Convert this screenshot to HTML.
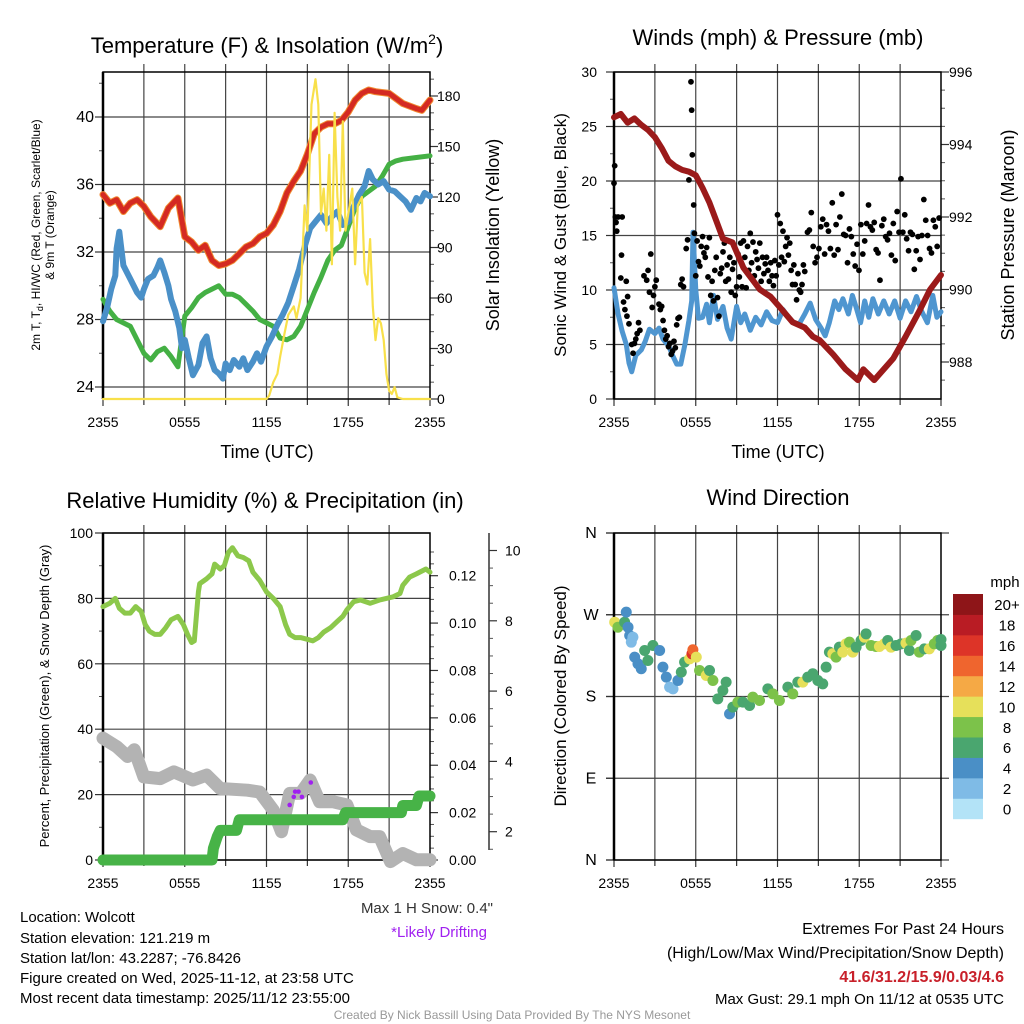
<!DOCTYPE html>
<html><head><meta charset="utf-8">
<style>
html,body{margin:0;padding:0;background:#fff;}
svg{display:block;font-family:"Liberation Sans",Arial,sans-serif;}
</style></head>
<body>
<svg id="fig" xmlns="http://www.w3.org/2000/svg" width="1024" height="1024" viewBox="0 0 1024 1024">
<rect x="0" y="0" width="1024" height="1024" fill="#fff"/>
<g id="g1"></g>
<g id="g2"></g>
<g id="g3"></g>
<g id="g4"></g>

<text x="267" y="53" font-size="22" text-anchor="middle">Temperature (F) &amp; Insolation (W/m<tspan dy="-9" font-size="14">2</tspan><tspan dy="9">)</tspan></text>
<text x="778" y="45" font-size="22" text-anchor="middle">Winds (mph) &amp; Pressure (mb)</text>
<text x="265" y="508" font-size="22" text-anchor="middle">Relative Humidity (%) &amp; Precipitation (in)</text>
<text x="778" y="505" font-size="22" text-anchor="middle">Wind Direction</text>

<text x="267" y="458" font-size="18" text-anchor="middle">Time (UTC)</text>
<text x="778" y="458" font-size="18" text-anchor="middle">Time (UTC)</text>

<text transform="translate(40,235) rotate(-90)" font-size="12" text-anchor="middle">2m T, T<tspan dy="3" font-size="9">d</tspan><tspan dy="-3">, HI/WC (Red, Green, Scarlet/Blue)</tspan></text>
<text transform="translate(54,235) rotate(-90)" font-size="12" text-anchor="middle">&amp; 9m T (Orange)</text>
<text transform="translate(499,235) rotate(-90)" font-size="18" text-anchor="middle">Solar Insolation (Yellow)</text>
<text transform="translate(566,235) rotate(-90)" font-size="17" text-anchor="middle">Sonic Wind &amp; Gust (Blue, Black)</text>
<text transform="translate(1014,235) rotate(-90)" font-size="18" text-anchor="middle">Station Pressure (Maroon)</text>
<text transform="translate(49,696) rotate(-90)" font-size="13" text-anchor="middle">Percent, Precipitation (Green), &amp; Snow Depth (Gray)</text>
<text transform="translate(566,696) rotate(-90)" font-size="17" text-anchor="middle">Direction (Colored By Speed)</text>

<text x="493" y="913" font-size="15" text-anchor="end" fill="#333">Max 1 H Snow: 0.4"</text>
<text x="487" y="937" font-size="15" text-anchor="end" fill="#a020f0">*Likely Drifting</text>

<g font-size="15">
<text x="20" y="922">Location: Wolcott</text>
<text x="20" y="943">Station elevation: 121.219 m</text>
<text x="20" y="963">Station lat/lon: 43.2287; -76.8426</text>
<text x="20" y="983">Figure created on Wed, 2025-11-12, at 23:58 UTC</text>
<text x="20" y="1003">Most recent data timestamp: 2025/11/12 23:55:00</text>
</g>
<g font-size="16" text-anchor="end">
<text x="1004" y="934">Extremes For Past 24 Hours</text>
<text x="1004" y="958">(High/Low/Max Wind/Precipitation/Snow Depth)</text>
<text x="1004" y="982" font-weight="bold" fill="#c8202a">41.6/31.2/15.9/0.03/4.6</text>
<text x="1004" y="1004" font-size="15">Max Gust: 29.1 mph On 11/12 at 0535 UTC</text>
</g>
<text x="512" y="1019" font-size="12" text-anchor="middle" fill="#999">Created By Nick Bassill Using Data Provided By The NYS Mesonet</text>
</svg>
<script>
// ---------- data (hours since 2355 UTC, values) ----------
const xTickLabels = ["2355","0555","1155","1755","2355"];
const tempRed = [[0,35.4],[0.5,34.9],[1,35.1],[1.5,34.4],[2,34.9],[2.5,35.1],[3,34.7],[3.5,34.1],[4.2,33.5],[4.8,34.6],[5.5,35.2],[6,32.9],[6.5,32.6],[7,32.1],[7.5,32.4],[8,31.5],[8.5,31.2],[9,31.3],[9.5,31.5],[10,31.9],[10.5,32.3],[11,32.5],[11.5,32.9],[12,33.1],[12.5,33.6],[13,34.4],[13.5,35.5],[14,36.2],[14.5,36.8],[15,37.8],[15.5,39.0],[16,39.4],[16.5,39.6],[17,39.6],[17.5,39.8],[18,40.3],[18.5,41.0],[19,41.4],[19.5,41.6],[20,41.5],[21,41.4],[21.5,41.1],[22,40.8],[23,40.5],[23.4,40.4],[24,41.0]];
const tempBlue = [[0,27.9],[0.3,28.7],[0.6,29.8],[0.9,30.6],[1.0,32.2],[1.2,33.2],[1.3,32.5],[1.5,31.2],[2,30.4],[2.5,29.6],[2.8,29.3],[3,29.8],[3.3,30.4],[3.7,30.6],[4,31.1],[4.2,31.5],[4.5,30.8],[4.8,30.0],[5,29.2],[5.3,28.5],[5.6,27.5],[5.8,26.3],[6,26.8],[6.3,25.7],[6.6,24.7],[7,25.3],[7.3,26.6],[7.6,27.0],[7.9,25.7],[8.2,25.0],[8.5,24.8],[8.8,24.5],[9,25.4],[9.3,25.0],[9.6,25.6],[10,25.2],[10.3,25.7],[10.6,25.0],[11,25.5],[11.3,26.0],[11.6,25.5],[12,26.4],[12.4,27.0],[12.8,27.7],[13.2,28.3],[13.6,29.0],[14,30.0],[14.4,31.0],[14.8,32.3],[15.2,33.4],[15.6,33.8],[16,34.2],[16.4,33.7],[16.8,34.1],[17.2,34.4],[17.6,33.6],[18,33.8],[18.4,34.7],[18.8,35.4],[19.2,35.9],[19.5,36.8],[19.8,36.3],[20.2,36.0],[20.6,36.2],[21,35.7],[21.4,35.6],[21.8,35.3],[22.2,35.0],[22.6,34.5],[23,35.2],[23.3,35.0],[23.6,35.5],[24,35.3]];
const dewGreen = [[0,29.2],[0.5,28.5],[1,28.0],[1.5,27.8],[2,27.6],[2.5,26.8],[3,26.0],[3.5,25.6],[4,26.1],[4.5,26.3],[5,25.8],[5.5,25.2],[6,28.2],[6.5,28.7],[7,29.3],[7.5,29.6],[8,29.8],[8.5,30.0],[9,29.5],[9.5,29.5],[10,29.3],[10.5,28.9],[11,28.5],[11.5,28.0],[12,27.8],[12.5,27.6],[13,26.9],[13.5,26.8],[14,27.0],[14.5,27.6],[15,28.6],[15.5,29.6],[16,30.5],[16.5,31.5],[17,32.1],[17.5,32.4],[18,33.5],[18.5,34.6],[19,35.3],[19.5,35.6],[20,35.9],[20.5,36.5],[21,37.2],[21.5,37.4],[22,37.5],[23,37.6],[24,37.7]];
const solar = [[0,0],[12,0],[12.2,2],[12.5,10],[12.8,15],[13,25],[13.3,38],[13.6,50],[14,55],[14.2,48],[14.5,60],[14.8,115],[15,100],[15.3,175],[15.6,190],[15.8,175],[16,110],[16.2,125],[16.4,100],[16.6,145],[16.8,80],[17,170],[17.2,120],[17.4,100],[17.6,165],[17.8,100],[18,110],[18.3,125],[18.5,80],[18.7,115],[19,120],[19.2,75],[19.4,68],[19.6,95],[19.8,55],[20,35],[20.2,48],[20.4,45],[20.6,35],[20.8,15],[21,5],[21.2,3],[21.4,7],[21.6,1],[22,0],[24,0]];
const windSpeed = [[0,10.2],[0.3,7.8],[0.6,6.2],[0.9,5.0],[1.1,3.3],[1.3,2.5],[1.6,4.0],[2,4.5],[2.3,5.3],[2.6,6.4],[3,6.0],[3.3,6.5],[3.6,5.5],[4,4.9],[4.3,4.0],[4.6,3.2],[4.9,3.2],[5.2,5.0],[5.5,7.2],[5.7,9.0],[5.8,15.3],[6.0,10.0],[6.2,7.4],[6.5,7.5],[6.8,8.7],[7,7.0],[7.3,9.5],[7.6,7.3],[8,8.5],[8.3,6.5],[8.6,5.5],[9,8.5],[9.3,7.0],[9.6,7.8],[10,6.3],[10.4,7.5],[10.8,6.8],[11.2,8.0],[11.6,7.2],[12,7.0],[12.4,8.2],[12.8,7.5],[13.2,7.0],[13.6,6.9],[14,7.8],[14.4,8.8],[14.8,7.3],[15.2,6.5],[15.5,5.8],[15.8,7.0],[16.2,9.0],[16.5,8.2],[16.8,9.2],[17.2,7.8],[17.5,9.5],[17.8,8.3],[18.1,7.0],[18.4,9.0],[18.7,7.5],[19,9.2],[19.4,7.8],[19.8,9.0],[20.2,7.8],[20.6,9.0],[21,7.4],[21.4,9.0],[21.8,8.0],[22.2,9.4],[22.6,8.0],[23,7.0],[23.4,9.5],[23.7,7.5],[24,8.0]];
const pressure = [[0,994.75],[0.5,994.84],[1,994.6],[1.5,994.72],[2,994.54],[2.5,994.4],[3,994.2],[3.5,993.9],[4,993.55],[4.5,993.4],[5,993.3],[5.5,993.25],[6,993.15],[6.5,992.8],[7,992.4],[7.5,991.9],[8,991.4],[8.7,991.3],[9.5,990.6],[10.7,990.0],[11.5,989.8],[12.2,989.5],[13.1,989.1],[14,988.95],[14.6,988.7],[15.1,988.6],[16.1,988.2],[17.0,987.8],[17.9,987.5],[18.3,987.8],[19.1,987.5],[20.5,988.1],[21.4,988.7],[22.4,989.4],[23.2,990.0],[24,990.4]];
const gusts = [[0.0,19.8],[0.05,21.4],[0.1,16.7],[0.15,16.2],[0.2,15.4],[0.3,16.7],[0.5,11.1],[0.55,13.2],[0.6,16.7],[0.7,8.9],[0.8,8.2],[0.9,10.8],[0.95,7.6],[1.0,9.4],[1.1,6.9],[1.3,5.0],[1.4,4.2],[1.5,5.1],[1.6,5.5],[1.7,6.0],[1.8,7.0],[1.9,6.3],[2.2,11.3],[2.4,10.9],[2.5,11.8],[2.6,9.8],[2.7,13.3],[2.8,8.4],[2.9,9.5],[3.0,10.3],[3.1,10.9],[3.3,8.7],[3.4,8.2],[3.5,8.5],[3.6,7.2],[3.7,6.3],[3.8,5.5],[3.9,5.8],[4.0,4.8],[4.1,5.1],[4.2,4.1],[4.3,4.4],[4.4,5.3],[4.5,4.7],[4.6,6.8],[4.7,7.4],[4.8,7.5],[4.9,10.5],[5.0,11.0],[5.1,10.3],[5.3,13.8],[5.4,14.6],[5.5,20.1],[5.6,20.8],[5.65,29.1],[5.7,26.5],[5.75,22.4],[5.85,17.8],[5.9,15.2],[6.0,11.3],[6.1,14.5],[6.2,12.6],[6.3,12.2],[6.4,14.0],[6.5,14.9],[6.6,13.4],[6.7,13.0],[6.8,13.9],[6.9,11.2],[7.0,14.8],[7.1,9.5],[7.2,10.8],[7.3,9.0],[7.4,11.8],[7.5,13.0],[7.6,9.3],[7.7,7.6],[7.8,11.5],[7.9,12.0],[8.0,13.5],[8.1,14.3],[8.2,10.8],[8.3,12.3],[8.4,11.0],[8.5,13.0],[8.6,9.8],[8.7,11.9],[8.8,12.5],[8.9,9.5],[9.0,10.3],[9.1,13.3],[9.2,11.2],[9.3,14.3],[9.4,10.3],[9.5,14.5],[9.6,13.0],[9.7,10.2],[9.8,14.0],[9.9,11.8],[10.0,15.2],[10.1,12.5],[10.2,14.4],[10.3,11.3],[10.4,13.5],[10.5,12.8],[10.6,12.0],[10.7,14.3],[10.8,10.8],[10.9,13.0],[11.0,11.5],[11.1,12.4],[11.2,13.0],[11.3,11.8],[11.4,10.8],[11.5,12.5],[11.6,11.3],[11.7,10.4],[11.8,12.7],[11.9,11.3],[12.0,16.9],[12.1,12.3],[12.2,16.1],[12.3,13.0],[12.4,15.4],[12.5,12.6],[12.6,14.0],[12.7,14.8],[12.8,13.2],[12.9,14.3],[13.0,11.8],[13.1,10.5],[13.2,12.3],[13.3,10.5],[13.4,9.1],[13.5,11.5],[13.6,10.0],[13.7,9.8],[13.8,10.5],[13.9,12.3],[14.0,11.7],
[14.2,15.3],[14.34,15.5],[14.48,17.1],[14.62,14.0],[14.76,12.5],[14.9,13.0],[15.04,13.8],[15.18,15.8],[15.32,16.5],[15.46,13.3],[15.6,16.0],[15.74,15.4],[15.88,13.8],[16.02,18.0],[16.16,13.2],[16.3,16.0],[16.44,13.7],[16.58,16.7],[16.72,18.8],[16.86,15.1],[17.0,15.0],[17.14,12.5],[17.28,15.6],[17.42,14.9],[17.56,13.3],[17.7,12.2],[17.84,14.2],[17.98,11.8],[18.12,16.0],[18.26,13.3],[18.4,14.5],[18.54,16.1],[18.68,17.8],[18.82,15.8],[18.96,15.5],[19.1,16.2],[19.24,13.7],[19.38,13.4],[19.52,10.9],[19.66,15.9],[19.8,16.5],[19.94,14.9],[20.08,14.6],[20.22,15.2],[20.36,13.2],[20.5,16.1],[20.64,12.7],[20.78,17.2],[20.92,15.3],[21.06,20.2],[21.2,15.3],[21.34,16.9],[21.48,14.7],[21.62,13.6],[21.76,15.3],[21.9,15.1],[22.04,11.9],[22.18,13.6],[22.32,14.9],[22.46,12.8],[22.6,15.0],[22.74,18.3],[22.88,16.4],[23.02,15.0],[23.16,13.8],[23.3,13.4],[23.44,16.4],[23.58,15.8],[23.72,14.0],[23.86,16.6]];
const humidity = [[0,77.5],[0.5,78.5],[0.9,80],[1.2,77],[1.6,75.5],[2,75.5],[2.4,77.5],[2.8,76],[3.1,72],[3.4,70],[3.8,69],[4.2,69],[4.6,71],[5,73.5],[5.5,74.5],[5.9,72],[6.2,69],[6.5,66.5],[6.7,67],[7.0,82],[7.1,84.5],[7.6,86],[8,87.5],[8.2,90.5],[8.6,89],[8.9,90],[9.2,94],[9.5,95.5],[9.9,93],[10.3,92.5],[10.7,91.5],[11.0,88],[11.5,85.5],[12.0,82],[12.5,80],[13.0,77.5],[13.4,72],[13.7,69],[14.1,68],[14.5,68],[15.0,67.5],[15.4,67],[15.8,68],[16.2,69.7],[16.7,71],[17.2,73],[17.6,74.5],[17.9,76.5],[18.4,79],[18.9,79.5],[19.6,78.5],[20.3,79.5],[21.3,80.5],[21.8,81.5],[22.0,84],[22.5,86.5],[23.0,87.5],[23.7,89],[24,88]];
const precip = [[0,0],[8.0,0],[8.1,0.005],[8.4,0.01],[8.6,0.0125],[9.8,0.0125],[10.0,0.017],[17.6,0.017],[17.8,0.02],[21.9,0.02],[22.0,0.023],[23.0,0.023],[23.2,0.027],[24,0.027]];
const snowDepth = [[0,4.66],[1.0,4.42],[1.8,4.14],[2.3,4.33],[3.0,3.56],[4.2,3.51],[5.2,3.70],[6.6,3.47],[7.6,3.61],[8.6,3.23],[10.6,3.18],[11.5,3.13],[12.5,2.61],[13.1,2.0],[13.7,3.09],[14.5,3.09],[15.2,3.47],[15.9,2.85],[16.9,2.85],[17.9,2.76],[18.6,2.05],[19.6,1.86],[20.3,1.86],[21.1,1.15],[22.0,1.38],[23.0,1.2],[24,1.2]];
const drifting = [[13.7,2.76],[14.0,2.99],[14.1,3.14],[14.35,3.14],[14.6,2.99],[15.25,3.40]];
const dirHours = [0.05,0.29,0.78,0.9,1.03,1.15,1.27,1.39,1.52,1.76,2.0,2.25,2.49,2.86,3.35,3.59,3.84,4.08,4.33,4.69,4.94,5.18,5.55,5.72,5.79,6.04,6.28,6.77,7.01,7.26,7.62,7.99,8.23,8.48,8.72,9.09,9.46,9.95,10.19,10.68,11.29,11.66,12.14,12.76,13.12,13.49,13.86,14.22,14.59,14.96,15.32,15.57,15.81,16.06,16.3,16.54,16.79,17.03,17.28,17.52,17.77,18.13,18.38,18.5,18.87,19.23,19.48,19.84,20.09,20.33,20.7,21.07,21.43,21.68,21.8,22.17,22.41,22.78,23.14,23.51,23.75,24.0,24.0];
const dirDeg = [261.8,256.3,261.8,272.9,256.3,247.2,239.8,245.3,223.3,216,210.5,230.6,219.6,236.2,230.6,212.3,201.3,190.3,188.4,197.6,206.8,217.8,221.5,227,231.4,223.3,208.6,203.1,208.6,197.6,177.4,186.6,195.8,160.9,168.3,173.8,173.8,170.1,179.3,175.6,188.4,182.9,175.6,190.3,182.9,195.8,195.8,201.3,205,197.6,193.9,212.3,228.8,227,223.3,234.3,228.8,238,239.8,228.8,234.3,241.7,245.3,249,236.2,235,235,238,241.7,234.3,236.2,238,238.7,230.6,241.7,247.2,228.8,232.4,232.4,238,241.7,242.8,236.2];
const dirSpeed = [10,8,6,4,4,4,2,2,4,4,4,6,6,6,4,4,4,2,2,4,6,6,10,16,14,10,8,10,6,8,6,6,6,4,6,8,6,6,8,8,6,8,8,6,8,6,10,6,6,6,6,6,6,10,8,6,10,10,8,10,6,6,10,6,8,8,10,10,6,10,6,6,10,6,8,6,8,6,10,8,8,6,6];
const speedLabels = ["0","2","4","6","8","10","12","14","16","18","20+"];
const speedColors = ["#b3e3f7","#7fbbe6","#4a8fc6","#4aa66f","#7cc24a","#e6e05a","#f5a945","#ef652e","#dd3428","#b91c24","#8e1518"];

// ---------- helpers ----------
const NS="http://www.w3.org/2000/svg";
function mk(parent,tag,attrs){const e=document.createElementNS(NS,tag);for(const k in attrs)e.setAttribute(k,attrs[k]);parent.appendChild(e);return e;}
function lin(d0,d1,r0,r1){return v=>r0+(v-d0)*(r1-r0)/(d1-d0);}
function pathOf(data,sx,sy){return data.map((p,i)=>(i?"L":"M")+sx(p[0]).toFixed(1)+","+sy(p[1]).toFixed(1)).join("");}

function frame(g,X0,X1,Y0,Y1,prefix){
  const sx=lin(0,24,X0,X1);
  for(let h=3;h<24;h+=3){
    const l=mk(g,"line",{x1:sx(h),x2:sx(h),y1:Y0-8,y2:Y1,stroke:"#444","stroke-width":1.2});
    
    
  }
  for(let h=0;h<=24;h+=3){
    const t=mk(g,"line",{x1:sx(h),x2:sx(h),y1:Y1,y2:Y1+(h%6===0?7:6),stroke:"#333","stroke-width":1.2});
    
    
  }
  xTickLabels.forEach((lab,i)=>{
    const t=mk(g,"text",{x:sx(i*6),y:Y1+28,"font-size":14,"text-anchor":"middle"});
    t.textContent=lab;
    
    
  });
  return sx;
}
function border(g,X0,X1,Y0,Y1,prefix){
  const r=mk(g,"rect",{x:X0,y:Y0,width:X1-X0,height:Y1-Y0,fill:"none",stroke:"#000","stroke-width":1.5});
  
  
  const l=mk(g,"line",{x1:X0,x2:X0,y1:Y0,y2:Y1,stroke:"#000","stroke-width":2.5});
  
  
}
function yAxis(g,x,ticks,sy,labels,side,len,prefix,grid,anchor,fs,lx){
  ticks.forEach((v,i)=>{
    const y=sy(v);
    if(grid){const gl=mk(g,"line",{x1:grid[0],x2:grid[1],y1:y,y2:y,stroke:"#444","stroke-width":1.2});
      
      }
    const t=mk(g,"line",{x1:x,x2:x+side*len,y1:y,y2:y,stroke:"#333","stroke-width":1.2});
    
    
    const tx=mk(g,"text",{x:lx,y:y+5,"font-size":fs||14,"text-anchor":anchor||(side<0?"end":"start")});
    tx.textContent=labels[i];
    
    
  });
}
function minor(g,x,vals,sy,side,prefix){
  vals.forEach(v=>{const t=mk(g,"line",{x1:x,x2:x+side*4,y1:sy(v),y2:sy(v),stroke:"#555","stroke-width":1});
    
    });
}
function line(g,data,sx,sy,color,w,name){
  const p=mk(g,"path",{d:pathOf(data,sx,sy),fill:"none",stroke:color,"stroke-width":w,"stroke-linejoin":"round","stroke-linecap":"round"});
  
  
  return p;
}

// ---------- panel 1 ----------
(function(){
  const g=document.getElementById("g1");const X0=103,X1=430,Y0=72,Y1=399;
  const sx=frame(g,X0,X1,Y0,Y1,"temp");
  const sy=lin(24,40,387,117), sr=lin(0,180,399,96);
  yAxis(g,X0,[24,28,32,36,40],sy,["24","28","32","36","40"],-1,8,"temp-y",[X0,X1],null,16,94);
  minor(g,X0,[26,30,34,38,42],sy,-1,"temp-y");
  yAxis(g,X1,[0,30,60,90,120,150,180],sr,["0","30","60","90","120","150","180"],1,8,"solar-y",null,null,14,437);
  minor(g,X1,[10,20,40,50,70,80,100,110,130,140,160,170,190],sr,1,"solar-y");
  border(g,X0,X1,Y0,Y1,"temp");
  line(g,dewGreen,sx,sy,"#44b044",5,"dewpoint-line");
  line(g,tempBlue,sx,sy,"#4a90c8",6,"windchill-line");
  line(g,tempRed,sx,sy,"#f08a30",7,"temp-9m-line");
  line(g,tempRed,sx,sy,"#d42a22",5,"temp-2m-line");
  line(g,solar,sx,sr,"#f8e04a",2.2,"insolation-line");
})();

// ---------- panel 2 ----------
(function(){
  const g=document.getElementById("g2");const X0=614,X1=941,Y0=72,Y1=399;
  const sx=frame(g,X0,X1,Y0,Y1,"wind");
  const sy=lin(0,30,399,72), sp=lin(988,996,362,72);
  yAxis(g,X0,[0,5,10,15,20,25,30],sy,["0","5","10","15","20","25","30"],-1,8,"wind-y",[X0,X1],null,14,597);
  minor(g,X0,[2.5,7.5,12.5,17.5,22.5,27.5],sy,-1,"wind-y");
  yAxis(g,X1,[988,990,992,994,996],sp,["988","990","992","994","996"],1,8,"pressure-y",null,null,14,949);
  minor(g,X1,[987.5,988.5,989,989.5,990.5,991,991.5,992.5,993,993.5,994.5,995,995.5],sp,1,"pressure-y");
  border(g,X0,X1,Y0,Y1,"wind");
  line(g,windSpeed,sx,sy,"#4f96d0",5,"wind-speed-line");
  gusts.forEach(p=>{const c=mk(g,"circle",{cx:sx(p[0]),cy:sy(p[1]),r:2.9,fill:"#000"});
    
    });
  line(g,pressure,sx,sp,"#9b1a1a",6,"pressure-line");
})();

// ---------- panel 3 ----------
(function(){
  const g=document.getElementById("g3");const X0=103,X1=430,Y0=533,Y1=860;
  const sx=frame(g,X0,X1,Y0,Y1,"rh");
  const sy=lin(0,100,860,533), spp=lin(0,0.12,860,575.7), ss=lin(2,10,831.7,550.5);
  yAxis(g,X0,[0,20,40,60,80,100],sy,["0","20","40","60","80","100"],-1,8,"rh-y",[X0,X1],null,14,93);
  minor(g,X0,[10,30,50,70,90],sy,-1,"rh-y");
  yAxis(g,X1,[0,0.02,0.04,0.06,0.08,0.10,0.12],spp,["0.00","0.02","0.04","0.06","0.08","0.10","0.12"],1,8,"precip-y",null,null,14,449);
  minor(g,X1,[0.005,0.01,0.015,0.025,0.03,0.035,0.045,0.05,0.055,0.065,0.07,0.075,0.085,0.09,0.095,0.105,0.11,0.115,0.125,0.13],spp,1,"precip-y");
  const ax=mk(g,"line",{x1:489,x2:489,y1:533,y2:850,stroke:"#333","stroke-width":1.5});
  
  
  yAxis(g,489,[2,4,6,8,10],ss,["2","4","6","8","10"],1,8,"snow-y",null,null,14,505);
  minor(g,489,[1.5,2.5,3,3.5,4.5,5,5.5,6.5,7,7.5,8.5,9,9.5],ss,1,"snow-y");
  border(g,X0,X1,Y0,Y1,"rh");
  line(g,snowDepth,sx,ss,"#b3b3b3",13,"snow-depth-line");
  line(g,precip,sx,spp,"#47b347",11,"precip-line");
  line(g,humidity,sx,sy,"#8cc84b",5,"humidity-line");
  drifting.forEach(p=>{const c=mk(g,"circle",{cx:sx(p[0]),cy:ss(p[1]),r:2.3,fill:"#a020f0"});
    
    });
})();

// ---------- panel 4 ----------
(function(){
  const g=document.getElementById("g4");const X0=614,X1=941,Y0=533,Y1=860;
  const sx=frame(g,X0,X1,Y0,Y1,"dir");
  const sy=lin(0,360,860,533);
  yAxis(g,X0,[0,90,180,270,360],sy,["N","E","S","W","N"],-1,8,"dir-y",[X0-8,X1+8],"middle",16,591);
  border(g,X0,X1,Y0,Y1,"dir");
  dirHours.forEach((h,i)=>{
    const ci=Math.min(10,Math.floor(dirSpeed[i]/2));
    const c=mk(g,"circle",{cx:sx(h),cy:sy(dirDeg[i]),r:5.5,fill:speedColors[ci]});
    
    
  });
  const cb=mk(g,"g",{});
  
  
  const bh=224.7/11;
  speedColors.forEach((col,i)=>{
    const y=818.7-(i+1)*bh;
    const r=mk(cb,"rect",{x:953,y:y,width:30,height:bh+0.5,fill:col});
    
    
    const t=mk(cb,"text",{x:1007,y:y+bh/2+6,"font-size":15,"text-anchor":"middle"});
    t.textContent=speedLabels[i];
    
    
  });
  const u=mk(cb,"text",{x:1005,y:587,"font-size":15,"text-anchor":"middle"});
  u.textContent="mph";
  
  
})();
</script>
</body></html>
